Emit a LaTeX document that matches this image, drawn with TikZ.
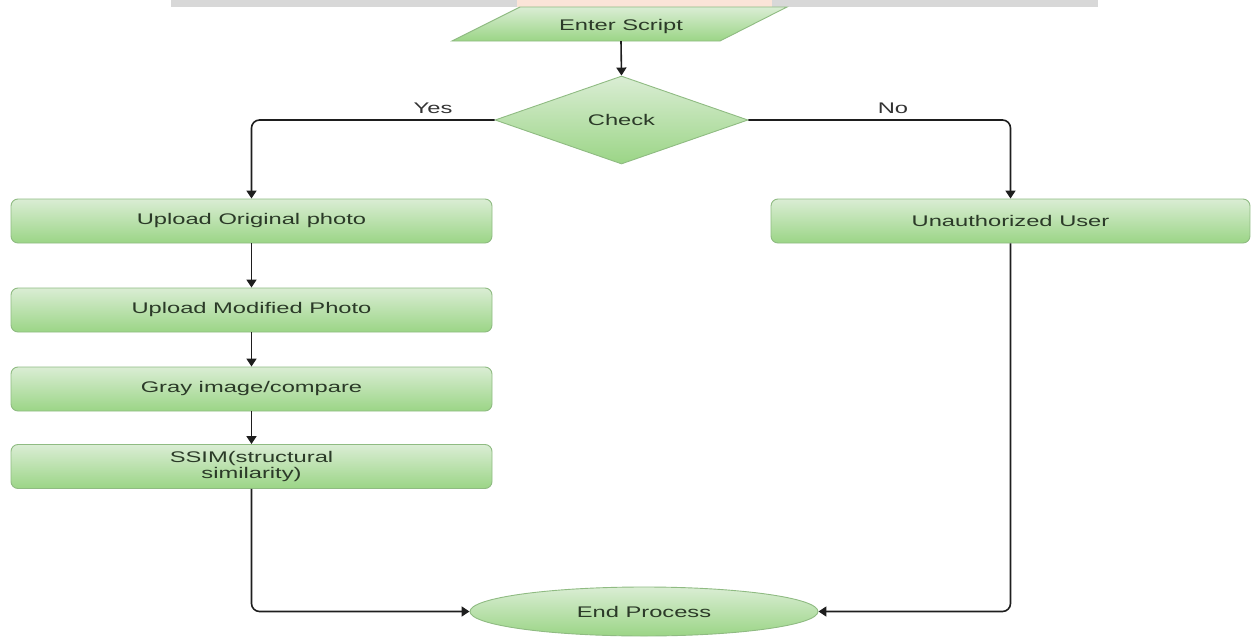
\documentclass[tikz,border=0pt]{standalone}
\usepackage{fontspec}
\setmainfont{Liberation Sans}[FakeStretch=1.54]
\usetikzlibrary{shapes.geometric,arrows.meta}
\definecolor{gtop}{HTML}{DAEDD4}
\definecolor{gbot}{HTML}{9BD586}
\definecolor{gedge}{HTML}{8FBB82}
\definecolor{txtc}{HTML}{2B3A28}
\definecolor{connc}{HTML}{1E1E1E}
\definecolor{wmgray}{HTML}{D8D8D8}
\definecolor{wmpeach}{HTML}{FBE4D8}
\tikzset{
  greenfill/.style={draw=gedge, line width=0.9pt, top color=gtop, bottom color=gbot},
  labelfont/.style={font=\fontsize{15.4}{15.5}\selectfont},
  procbox/.style={greenfill, rounded corners=7pt, minimum width=481pt, minimum height=44pt,
    inner sep=0pt, text=txtc, labelfont, align=center},
  conn/.style={draw=connc, line width=1.6pt, -{Triangle[length=8pt,width=10pt]}, rounded corners=8pt},
  lbl/.style={text=black!80, labelfont, inner sep=0pt}
}
\begin{document}
\begin{tikzpicture}[x=1pt,y=-1pt]
\useasboundingbox (0,0) rectangle (1251,637);
% watermark remnant at top
\fill[wmgray] (171,0) rectangle (1098,7);
\fill[wmpeach] (517,0) rectangle (772,7);
% Enter Script (parallelogram)
\path[greenfill] (520,7) -- (787,7) -- (720,41) -- (452,41) -- cycle;
\node[text=txtc, labelfont, minimum height=28pt, inner sep=0pt] (enter) at (621,27) {Enter Script};
% Check (diamond)
\node[diamond, greenfill, aspect=2.875, minimum width=253pt, minimum height=88pt,
  inner sep=0pt, text=txtc, labelfont] (check) at (621.5,120) {Check};
% process boxes
\node[procbox] (orig) at (251.5,221) {Upload Original photo};
\node[procbox] (modif) at (251.5,310) {Upload Modified Photo};
\node[procbox] (gray) at (251.5,389) {Gray image/compare};
\node[procbox] (ssim) at (251.5,466.5) {SSIM(structural\\similarity)};
\node[procbox, minimum width=479pt] (unauth) at (1010.5,221) {Unauthorized User};
% End Process (ellipse)
\node[ellipse, greenfill, minimum width=348pt, minimum height=49pt, inner sep=0pt,
  text=txtc, labelfont] (endp) at (644,611.5) {End Process};
% labels
\node[lbl] (yes) at (433,108) {Yes};
\node[lbl] (no) at (893,108) {No};
% connectors
\draw[conn] (enter.south) -- (check.north);
\draw[conn] (check.west) -| (orig.north);
\draw[conn] (check.east) -| (unauth.north);
\draw[conn] (orig.south) -- (modif.north);
\draw[conn] (modif.south) -- (gray.north);
\draw[conn] (gray.south) -- (ssim.north);
\draw[conn] (ssim.south) |- (endp.west);
\draw[conn] (unauth.south) |- (endp.east);
\end{tikzpicture}
\end{document}
